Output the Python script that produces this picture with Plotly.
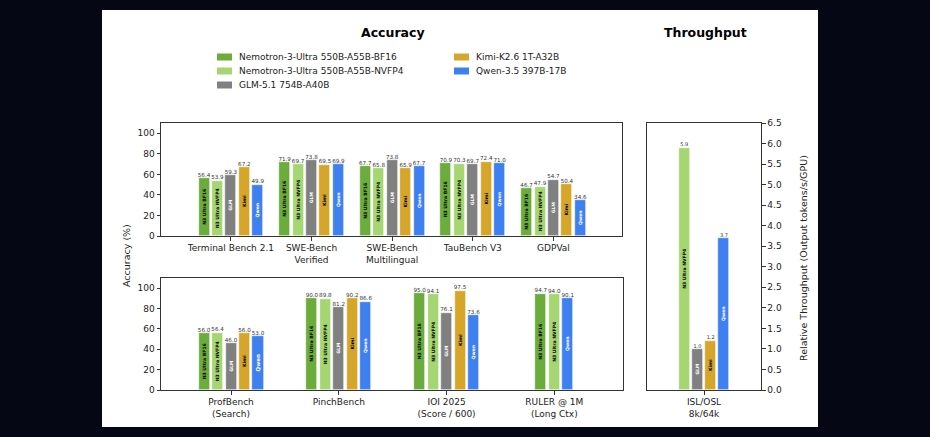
import plotly.graph_objects as go

W, H = 930, 437

# ---- data ----
series = ["Nemotron-3-Ultra 550B-A55B-BF16", "Nemotron-3-Ultra 550B-A55B-NVFP4",
          "GLM-5.1 754B-A40B", "Kimi-K2.6 1T-A32B", "Qwen-3.5 397B-17B"]
short = ["N3 Ultra BF16", "N3 Ultra NVFP4", "GLM", "Kimi", "Qwen"]
colors = ["#6cac3c", "#a6d672", "#808080", "#d6a62b", "#3e80f0"]
label_colors = ["black", "black", "white", "black", "white"]

top_cats = ["Terminal Bench 2.1", "SWE-Bench<br>Verified", "SWE-Bench<br>Multilingual",
            "TauBench V3", "GDPVal"]
top_bf16 = [56.4, 71.9, 67.7, 70.9, 46.7]
top_nvfp4 = [53.9, 69.7, 65.8, 70.3, 47.9]
top_glm = [59.3, 73.8, 73.8, 69.7, 54.7]
top_kimi = [67.2, 69.5, 65.9, 72.4, 50.4]
top_qwen = [49.9, 69.9, 67.7, 71.0, 34.6]

bot_cats = ["ProfBench<br>(Search)", "PinchBench", "IOI 2025<br>(Score / 600)",
            "RULER @ 1M<br>(Long Ctx)"]
bot_bf16 = [56.0, 90.0, 95.0, 94.7]
bot_nvfp4 = [56.4, 89.8, 94.1, 94.0]
bot_glm = [46.0, 81.2, 76.1, None]
bot_kimi = [56.0, 90.2, 97.5, None]
bot_qwen = [53.0, 86.6, 73.6, 90.1]

tp_cats = ["ISL/OSL<br>8k/64k"]
tp_bf16 = [None]
tp_nvfp4 = [5.9]
tp_glm = [1.0]
tp_kimi = [1.2]
tp_qwen = [3.7]

top_tab = [top_bf16, top_nvfp4, top_glm, top_kimi, top_qwen]
bot_tab = [bot_bf16, bot_nvfp4, bot_glm, bot_kimi, bot_qwen]
tp_tab = [tp_bf16, tp_nvfp4, tp_glm, tp_kimi, tp_qwen]

FONT = "DejaVu Sans"
fig = go.Figure()


def add_panel(tab, spacing, xa, ya, vfont):
    ncat = len(tab[0])
    # bars of the series present in a category sit side by side around it
    xs = [[None] * ncat for _ in tab]
    for c in range(ncat):
        present = [s for s in range(len(tab)) if tab[s][c] is not None]
        for k, s in enumerate(present):
            xs[s][c] = c * spacing + k - (len(present) - 1) / 2
    for s in range(len(tab)):
        px_ = [x for x, v in zip(xs[s], tab[s]) if v is not None]
        pv = [v for v in tab[s] if v is not None]
        if not pv:
            continue
        fig.add_trace(go.Bar(
            x=px_, y=pv, width=0.82, xaxis=xa, yaxis=ya, showlegend=False,
            marker=dict(color=colors[s], line=dict(color="white", width=0.6)),
            text=[short[s]] * len(pv), textposition="inside", textangle=-90,
            insidetextanchor="middle",
            textfont=dict(family=FONT, size=5.5, color=label_colors[s], weight="bold"),
            hoverinfo="skip"))
        fig.add_trace(go.Scatter(
            x=px_, y=pv, xaxis=xa, yaxis=ya, mode="text", showlegend=False,
            text=[f"{v:.1f}" for v in pv], textposition="top center",
            textfont=dict(family=FONT, size=vfont, color="#333333"),
            cliponaxis=False, hoverinfo="skip"))


add_panel(top_tab, 6, "x", "y", 5.6)
add_panel(bot_tab, 8, "x2", "y2", 5.6)
add_panel(tp_tab, 1, "x3", "y3", 5.0)


def px(x):
    return x / W


def py(y):
    return 1 - y / H


ax = dict(showline=True, mirror=True, linecolor="#333333", linewidth=1,
          ticks="outside", ticklen=3.5, tickcolor="#333333", showgrid=False,
          zeroline=False, automargin=False,
          tickfont=dict(family=FONT, size=9, color="#222222"))

fig.update_layout(
    width=W, height=H, margin=dict(l=0, r=0, t=0, b=0, pad=0),
    paper_bgcolor="#050814", plot_bgcolor="white", bargap=0,
    xaxis=dict(ax, anchor="y", domain=[px(161), px(622)], range=[-5.2, 29.1],
               tickvals=[i * 6 for i in range(len(top_cats))], ticktext=top_cats),
    yaxis=dict(ax, anchor="x", domain=[py(236), py(123)], range=[0, 110],
               tickvals=[0, 20, 40, 60, 80, 100]),
    xaxis2=dict(ax, anchor="y2", domain=[px(161), px(623)], range=[-5.2, 29.1],
                tickvals=[i * 8 for i in range(len(bot_cats))], ticktext=bot_cats),
    yaxis2=dict(ax, anchor="x2", domain=[py(390), py(278)], range=[0, 110],
                tickvals=[0, 20, 40, 60, 80, 100]),
    xaxis3=dict(ax, anchor="y3", domain=[px(647), px(761)], range=[-4.3, 4.3],
                tickvals=[0], ticktext=tp_cats),
    yaxis3=dict(ax, anchor="x3", domain=[py(390), py(123)], range=[0, 6.5], side="right",
                tickvals=[i * 0.5 for i in range(14)], tickformat=".1f"),
)

# white card behind the charts
fig.add_shape(type="rect", xref="paper", yref="paper", layer="below",
              x0=px(102), x1=px(818), y0=py(427), y1=py(10),
              fillcolor="white", line=dict(width=0))


def note(text, x, y, size, angle=0, xanchor="center", color="#222222"):
    fig.add_annotation(text=text, x=px(x), y=py(y), xref="paper", yref="paper",
                       xanchor=xanchor, yanchor="middle", showarrow=False,
                       textangle=angle, font=dict(family=FONT, size=size, color=color))


note("<b>Accuracy</b>", 393, 33, 12.5, color="black")
note("<b>Throughput</b>", 705, 33, 12.5, color="black")
note("Accuracy (%)", 126, 256, 9.5, angle=-90)
note("Relative Throughput (Output tokens/s/GPU)", 803, 258, 9.5, angle=-90)

# legend, two columns
leg_x = [217, 217, 217, 454, 454]
leg_y = [57, 71, 85, 57, 71]
for s in range(len(series)):
    fig.add_shape(type="rect", xref="paper", yref="paper",
                  x0=px(leg_x[s]), x1=px(leg_x[s] + 15),
                  y0=py(leg_y[s] + 3.5), y1=py(leg_y[s] - 3.5),
                  fillcolor=colors[s], line=dict(width=0))
    note(series[s], leg_x[s] + 20, leg_y[s], 9, xanchor="left")

fig.write_html("out.html", config={"displayModeBar": False},
               post_script="document.body.style.margin='0';"
                           "document.body.style.overflow='hidden';")
